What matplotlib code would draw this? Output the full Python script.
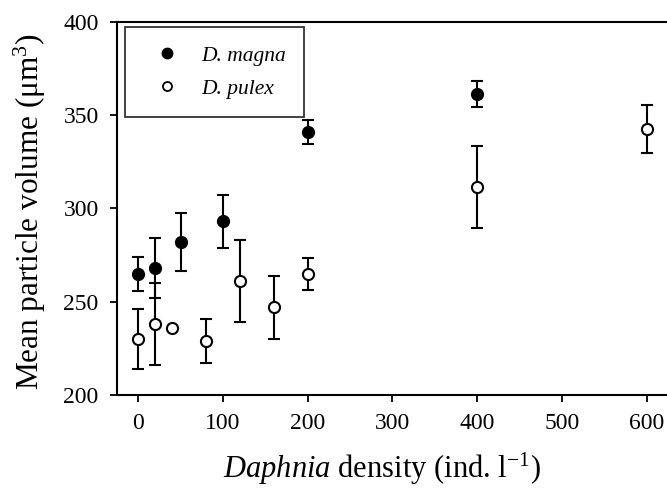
import matplotlib
matplotlib.use("Agg")
import matplotlib.pyplot as plt
from matplotlib.lines import Line2D

plt.rcParams['font.family'] = ['Liberation Serif', 'DejaVu Serif']
plt.rcParams['mathtext.fontset'] = 'custom'
plt.rcParams['mathtext.rm'] = 'Liberation Serif'
plt.rcParams['mathtext.it'] = 'Liberation Serif:italic'

# D. magna (filled)
magna_x = [0, 20, 50, 100, 200, 400]
magna_y = [265, 268, 282, 293, 341, 361.5]
magna_err = [9, 16, 15.5, 14, 6.5, 7]

# D. pulex (open)
pulex_x = [0, 20, 40, 80, 120, 160, 200, 400, 600]
pulex_y = [230, 238, 236, 229, 261, 247, 265, 311.5, 342.5]
pulex_err = [16, 22, 0, 12, 22, 17, 8.5, 22, 13]

x_ticks = [0, 100, 200, 300, 400, 500, 600]
y_ticks = [200, 250, 300, 350, 400]

fig = plt.figure(figsize=(6.67, 4.91), dpi=100)
ax = fig.add_axes([0.175, 0.1955, 0.825, 0.760])

ax.errorbar(magna_x, magna_y, yerr=magna_err, fmt='o', color='black',
            mfc='black', mec='black', ms=8.5, elinewidth=1.5, capsize=4,
            capthick=1.5, zorder=3)
ax.errorbar(pulex_x, pulex_y, yerr=pulex_err, fmt='o', color='black',
            mfc='white', mec='black', mew=1.5, ms=8, elinewidth=1.5,
            capsize=4, capthick=1.5, zorder=3)

ax.set_xlim(-25.5, 624)
ax.set_ylim(200, 400)
ax.set_xticks(x_ticks)
ax.set_yticks(y_ticks)
ax.tick_params(direction='out', length=5, width=1.3, labelsize=17, pad=8)
ax.tick_params(axis='x', pad=8)
ax.spines['right'].set_visible(False)
for s in ['left', 'bottom', 'top']:
    ax.spines[s].set_linewidth(1.5)

ax.set_ylabel('Mean particle volume (μm$^3$)', fontsize=22.5)
ax.yaxis.set_label_coords(-0.125, 0.49)
ax.set_xlabel('$\\mathit{Daphnia}$ density (ind. l$^{-1}$)', fontsize=22)
ax.xaxis.set_label_coords(0.482, -0.15)

handles = [
    Line2D([], [], ls='none', marker='o', color='black', mfc='black', ms=7.5),
    Line2D([], [], ls='none', marker='o', color='black', mfc='white', mew=1.3, ms=6.5),
]
leg = ax.legend(handles, ['D. magna', 'D. pulex'], loc='upper left',
                bbox_to_anchor=(0.015, 0.985), frameon=True, fancybox=False,
                edgecolor='black', prop={'style': 'italic', 'size': 15.5},
                borderpad=0.85, handletextpad=0.5, labelspacing=0.6,
                borderaxespad=0, handlelength=2.2)
leg.get_frame().set_linewidth(1.3)

plt.savefig('out.png', dpi=100)
